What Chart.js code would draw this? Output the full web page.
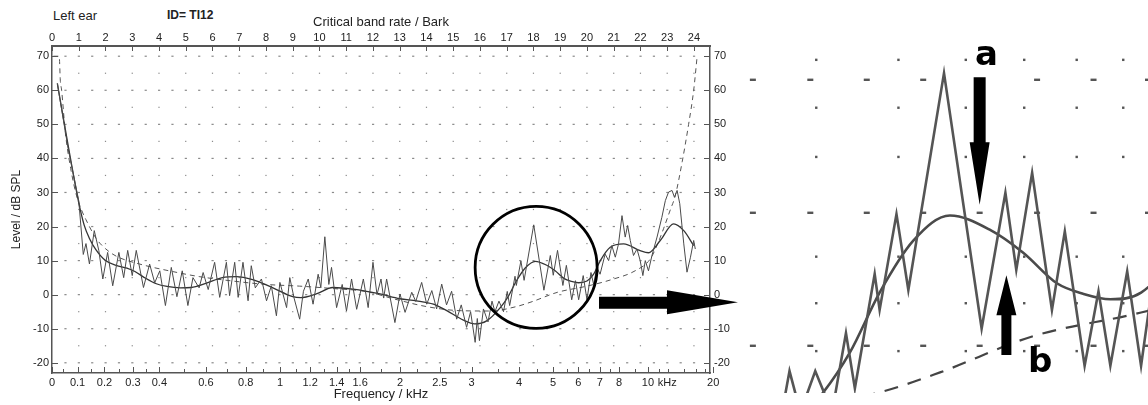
<!DOCTYPE html>
<html>
<head>
<meta charset="utf-8">
<script src="https://cdn.jsdelivr.net/npm/chart.js@4.4.1/dist/chart.umd.min.js"></script>
<style>
body { margin: 0; background: #fff; width: 1148px; height: 405px; overflow: hidden; position: relative; font-family: 'Liberation Sans', Arial, sans-serif; }
#main { position: absolute; left: 0; top: 0; }
#zoom { position: absolute; left: 740px; top: 0; }
.lab { position: absolute; font-size: 13px; color: #222; white-space: nowrap; }
</style>
</head>
<body>
<div class="lab" style="left:53px;top:8px">Left ear</div>
<div class="lab" style="left:167px;top:8px;font-weight:bold;font-size:12px">ID= TI12</div>
<canvas id="main" width="740" height="405"></canvas>
<canvas id="zoom" width="408" height="393"></canvas>
<script>
// measured level, fine structure (jagged line)
const noisyBark = [0.2,0.6,1.0,1.17,1.27,1.4,1.58,1.75,1.9,2.08,
    2.27,2.5,2.68,2.83,3.0,3.15,3.42,3.65,3.84,4.03,
    4.24,4.46,4.67,4.87,5.08,5.27,5.5,5.65,5.84,6.08,
    6.27,6.52,6.64,6.83,6.96,7.14,7.33,7.45,7.6,7.83,
    8.02,8.2,8.39,8.52,8.77,8.89,9.05,9.26,9.4,9.58,
    9.76,9.95,10.05,10.2,10.35,10.45,10.64,10.85,11.01,11.2,
    11.39,11.64,11.82,12.0,12.15,12.3,12.4,12.51,12.82,13.01,
    13.2,13.45,13.6,13.82,14.01,14.2,14.38,14.57,14.75,14.94,
    15.13,15.3,15.5,15.65,15.82,15.9,15.98,16.13,16.3,16.45,
    16.56,16.71,16.88,17.02,17.11,17.31,17.36,17.53,17.65,18.01,
    18.39,18.63,18.74,18.9,19.1,19.23,19.43,19.57,19.69,19.86,
    20.0,20.15,20.25,20.37,20.49,20.68,20.81,20.93,21.06,21.18,
    21.31,21.43,21.52,21.62,21.74,21.87,21.99,22.09,22.18,22.3,
    22.43,22.62,22.8,22.93,23.05,23.18,23.27,23.37,23.47,23.62,
    23.74,23.87,23.99,24.05];
const noisyLevel = [62,43,27.6,11.8,15,9,18.8,13,4.6,12.4,
    2.6,12.4,5,13,5.6,13,2.1,9,3.5,7,
    -3.2,8,-0.6,7,-3.2,5,2,6.5,1.5,9.5,
    -0.8,9.5,-0.3,9.5,-0.8,9.5,-1.8,8.5,2,4.6,
    -1.8,2.6,-6.2,3.6,-3.8,5,-1,-7.2,1,4.6,
    -2.8,6,2,17,3,8,-3.8,3,-4.8,4.6,
    -4.3,4.6,-3.8,9.5,0,4.6,-1,4.6,-8.2,0.2,
    -5.2,0.7,-2,3.6,-2.8,1.2,-4.2,3.1,-3,1,
    -7.2,-3,-9.6,-5,-14,-7,-13.5,-4.2,-8,-1.9,
    -5,-1.9,-5,0.95,-3.2,5.4,2.7,9.9,4.2,20.5,
    1.3,11.5,5.7,13,2.7,8.6,-1.5,4.1,-1.5,5.6,
    -1.5,6.5,3,8,6,11.9,10,14.4,11,14.9,
    23.2,16.9,20.3,15.9,11.5,13.4,10,5.6,10,7,
    11.5,16.9,22.7,27.6,30.1,30.6,28.6,30.6,26.7,14.9,
    6.6,11,15.9,13.4];

// smoothed level
const smoothBark = [0.2,0.6,1.0,1.2,1.4,1.64,2.0,2.4,2.8,3.1,
    3.5,3.9,4.3,4.8,5.2,5.75,6.37,6.9,7.5,8.26,
    9.0,9.3,9.88,10.5,11.25,12.26,13.0,13.63,14.26,14.76,
    15.38,15.8,16.25,16.76,17.06,17.36,17.7,18.07,18.48,18.81,
    19.15,19.42,19.69,20.0,20.25,20.5,20.87,21.37,21.99,22.3,
    22.74,23.24,23.62,23.99];
const smoothLevel = [62,44,27,20.5,16.5,13.2,10,8.6,7.8,6.8,
    4.8,3.2,2.4,2.0,2.1,3.3,5.0,5.3,4.4,2.0,
    -0.6,-0.9,0.2,2.1,1.6,0.2,-1.2,-1.8,-2.8,-4.7,
    -7.5,-8.6,-7.7,-3.8,-0.5,4.0,7.9,9.8,8.7,7.0,
    4.7,3.9,3.5,4.0,6.0,10,13.9,14.9,12.9,12.3,
    15.9,20.8,18.8,14.4];

// threshold in quiet (dashed)
const quietBark = [0.05,0.27,0.31,0.36,0.5,0.7,0.92,1.15,1.27,1.65,
    2.0,2.4,3.27,4.5,5.5,6.76,8.0,9.26,10.5,11.76,
    12.76,14.0,15.25,16.4,17.36,17.97,18.9,20.0,20.87,21.8,
    22.37,22.62,22.87,23.12,23.3,23.56,23.8,23.99,24.12];
const quietLevel = [70,70,63,60,47.5,37,29,24,22,16.5,
    13.5,11.3,9,6.8,5.3,4.0,3.0,2.5,1.8,0.9,
    -1.2,-3.5,-4.7,-4.8,-3.5,-2.0,0.7,2.5,4.3,7.0,
    10.5,14.5,19.5,25,29,39,50,60,70];

// axes
const barkTicks = [0,1,2,3,4,5,6,7,8,9,10,11,12,13,14,15,16,17,18,19,20,21,22,23,24];
const freqLabels = [0,0.1,0.2,0.3,0.4,0.6,0.8,1,1.2,1.4,1.6,2,2.5,3,4,5,6,7,8,10,20];
const freqMinor = [0.05,0.15,0.25,0.35,0.5,0.7,0.9,1.1,1.3,1.5,1.8,2.2,2.8,3.5,4.5,5.5,6.5,7.5,9,11,12,14,16,18];
const levelTicks = [-20,-10,0,10,20,30,40,50,60,70];

Chart.defaults.font.family = "'Liberation Sans', Arial, sans-serif";
Chart.defaults.color = '#222';

// kHz -> Bark (Traunmueller), used to place the frequency ticks
function hzToBark(f) {
    if (f === 0) return 0;
    let z = 26.81 * f * 1000 / (1960 + f * 1000) - 0.53;
    if (z < 2) z += 0.15 * (2 - z);
    if (z > 20.1) z += 0.22 * (z - 20.1);
    return z;
}

function toPoints(xs, ys) {
    return xs.map((x, i) => ({ x: x, y: ys[i] }));
}

const kHzBark = 23.0;

const mainDecor = {
    id: 'mainDecor',
    beforeDatasetsDraw(chart) {
        const { ctx, chartArea: a } = chart;
        const x = chart.scales.x, y = chart.scales.y;
        ctx.save();
        // dotted grid
        ctx.fillStyle = '#8a8a8a';
        for (let lv = -20; lv <= 70; lv += 5) {
            const py = y.getPixelForValue(lv);
            const major = lv % 10 === 0;
            const step = major ? 0.5 : 1;
            for (let b = step; b < 24.4; b += step) {
                const px = x.getPixelForValue(b);
                if (major) ctx.fillRect(px - 1, py - 0.6, 2.2, 1.2);
                else ctx.fillRect(px - 0.6, py - 0.6, 1.2, 1.2);
            }
        }
        // inward tick marks
        ctx.strokeStyle = '#555';
        ctx.lineWidth = 1;
        ctx.beginPath();
        freqLabels.forEach(f => {
            const px = Math.round(x.getPixelForValue(hzToBark(f))) + 0.5;
            ctx.moveTo(px, a.bottom); ctx.lineTo(px, a.bottom - 6);
        });
        freqMinor.forEach(f => {
            const px = Math.round(x.getPixelForValue(hzToBark(f))) + 0.5;
            ctx.moveTo(px, a.bottom); ctx.lineTo(px, a.bottom - 4);
        });
        barkTicks.forEach(b => {
            const px = Math.round(x.getPixelForValue(b)) + 0.5;
            ctx.moveTo(px, a.top); ctx.lineTo(px, a.top + 5);
        });
        levelTicks.forEach(l => {
            const py = Math.round(y.getPixelForValue(l)) + 0.5;
            ctx.moveTo(a.left, py); ctx.lineTo(a.left + 6, py);
            ctx.moveTo(a.right, py); ctx.lineTo(a.right - 6, py);
        });
        ctx.stroke();
        ctx.restore();
    },
    afterDraw(chart) {
        const ctx = chart.ctx;
        const x = chart.scales.x, y = chart.scales.y;
        ctx.save();
        // circle round the region that is magnified on the right
        ctx.strokeStyle = '#000';
        ctx.lineWidth = 2.8;
        ctx.beginPath();
        ctx.arc(x.getPixelForValue(18.1), y.getPixelForValue(8), 61, 0, Math.PI * 2);
        ctx.stroke();
        // arrow to the magnified view
        const ay = y.getPixelForValue(-2.2);
        ctx.fillStyle = '#000';
        ctx.beginPath();
        ctx.moveTo(599, ay - 5.5);
        ctx.lineTo(667, ay - 5.5);
        ctx.lineTo(667, ay - 12);
        ctx.lineTo(738, ay);
        ctx.lineTo(667, ay + 12);
        ctx.lineTo(667, ay + 6.5);
        ctx.lineTo(599, ay + 6.5);
        ctx.closePath();
        ctx.fill();
        ctx.restore();
    }
};

const hiddenGrid = { display: false, drawTicks: false };

new Chart(document.getElementById('main'), {
    type: 'line',
    data: {
        datasets: [
            { data: toPoints(noisyBark, noisyLevel), borderColor: '#4a4a4a', borderWidth: 1, pointRadius: 0, tension: 0 },
            { data: toPoints(smoothBark, smoothLevel), borderColor: '#333', borderWidth: 1.3, pointRadius: 0, cubicInterpolationMode: 'monotone' },
            { data: toPoints(quietBark, quietLevel), borderColor: '#555', borderWidth: 1, borderDash: [5, 4], pointRadius: 0, cubicInterpolationMode: 'monotone' }
        ]
    },
    options: {
        responsive: false,
        animation: false,
        events: [],
        layout: { padding: 0 },
        plugins: { legend: { display: false }, tooltip: { enabled: false } },
        scales: {
            x: {
                type: 'linear', position: 'bottom', min: 0, max: 24.6,
                grid: hiddenGrid,
                border: { color: '#555', width: 1.5 },
                afterBuildTicks: s => { s.ticks = freqLabels.map(f => ({ value: hzToBark(f) })).concat([{ value: kHzBark }]); },
                ticks: { autoSkip: false, maxRotation: 0, padding: 3, font: { size: 11 },
                    callback: (v, i) => i < freqLabels.length ? String(freqLabels[i]) : 'kHz' },
                afterFit: s => { s.height = 32; },
                title: { display: true, text: 'Frequency / kHz', font: { size: 13 }, padding: { top: 0, bottom: 3 } }
            },
            xTop: {
                type: 'linear', position: 'top', min: 0, max: 24.6,
                grid: hiddenGrid,
                border: { color: '#555', width: 2 },
                afterBuildTicks: s => { s.ticks = barkTicks.map(b => ({ value: b })); },
                ticks: { autoSkip: false, maxRotation: 0, padding: 1, font: { size: 11 } },
                afterFit: s => { s.height = 46; },
                title: { display: true, text: 'Critical band rate / Bark', font: { size: 13 }, padding: { top: 15, bottom: 0 } }
            },
            y: {
                type: 'linear', position: 'left', min: -23, max: 73,
                grid: hiddenGrid,
                border: { color: '#555', width: 1.5 },
                afterBuildTicks: s => { s.ticks = levelTicks.map(l => ({ value: l })); },
                ticks: { padding: 3, font: { size: 11 } },
                afterFit: s => { s.width = 52; },
                title: { display: true, text: 'Level / dB SPL', font: { size: 12 }, padding: { top: 9, bottom: 0 } }
            },
            yRight: {
                type: 'linear', position: 'right', min: -23, max: 73,
                grid: hiddenGrid,
                border: { color: '#555', width: 1.5 },
                afterBuildTicks: s => { s.ticks = levelTicks.map(l => ({ value: l })); },
                ticks: { padding: 4, font: { size: 11 } },
                afterFit: s => { s.width = 30; }
            }
        }
    },
    plugins: [mainDecor]
});

// magnified view of the circled region
const insetDashBark = [16.08,16.66,17.23,17.8,18.37,18.95,19.52,20.07];
const insetDotBark = [16.72,17.55,18.23,18.82,19.35,19.82];
const insetDotLevel = [21.5,17.9,14.2,6.7,3.2,-0.4];

function vArrow(ctx, px, yTail, yHeadBase, yTip, shaft, head) {
    ctx.beginPath();
    ctx.moveTo(px - shaft, yTail);
    ctx.lineTo(px - shaft, yHeadBase);
    ctx.lineTo(px - head, yHeadBase);
    ctx.lineTo(px, yTip);
    ctx.lineTo(px + head, yHeadBase);
    ctx.lineTo(px + shaft, yHeadBase);
    ctx.lineTo(px + shaft, yTail);
    ctx.closePath();
    ctx.fill();
}

const insetDecor = {
    id: 'insetDecor',
    beforeDatasetsDraw(chart) {
        const ctx = chart.ctx;
        const x = chart.scales.x, y = chart.scales.y;
        ctx.save();
        ctx.fillStyle = '#555';
        [0, 10, 20].forEach(l => {
            const py = y.getPixelForValue(l);
            insetDashBark.forEach(b => ctx.fillRect(x.getPixelForValue(b) - 3, py - 1.2, 6, 2.4));
        });
        insetDotLevel.forEach(l => {
            const py = y.getPixelForValue(l);
            insetDotBark.forEach(b => ctx.fillRect(x.getPixelForValue(b) - 1.2, py - 1.2, 2.4, 2.4));
        });
        ctx.restore();
    },
    afterDraw(chart) {
        const ctx = chart.ctx;
        const x = chart.scales.x, y = chart.scales.y;
        ctx.save();
        ctx.fillStyle = '#000';
        vArrow(ctx, x.getPixelForValue(18.37), y.getPixelForValue(20.2), y.getPixelForValue(15.3), y.getPixelForValue(10.6), 6, 10);
        vArrow(ctx, x.getPixelForValue(18.64), y.getPixelForValue(-0.7), y.getPixelForValue(2.3), y.getPixelForValue(5.3), 5, 10);
        ctx.font = "bold 34px 'DejaVu Sans', sans-serif";
        ctx.textAlign = 'center';
        ctx.textBaseline = 'alphabetic';
        ctx.fillText('a', x.getPixelForValue(18.44), y.getPixelForValue(21.1));
        ctx.fillText('b', x.getPixelForValue(18.98), y.getPixelForValue(-1.95));
        ctx.restore();
    }
};

new Chart(document.getElementById('zoom'), {
    type: 'line',
    data: {
        datasets: [
            { data: toPoints(noisyBark, noisyLevel), borderColor: '#555', borderWidth: 2.6, pointRadius: 0, tension: 0 },
            { data: toPoints(smoothBark, smoothLevel), borderColor: '#4a4a4a', borderWidth: 2.6, pointRadius: 0, cubicInterpolationMode: 'monotone' },
            { data: toPoints(quietBark, quietLevel), borderColor: '#444', borderWidth: 2.2, borderDash: [14, 10], pointRadius: 0, cubicInterpolationMode: 'monotone' }
        ]
    },
    options: {
        responsive: false,
        animation: false,
        events: [],
        layout: { padding: 0 },
        plugins: { legend: { display: false }, tooltip: { enabled: false } },
        scales: {
            x: { type: 'linear', display: false, min: 15.95, max: 20.07 },
            y: { type: 'linear', display: false, min: -3.55, max: 26 }
        }
    },
    plugins: [insetDecor]
});
</script>
</body>
</html>
